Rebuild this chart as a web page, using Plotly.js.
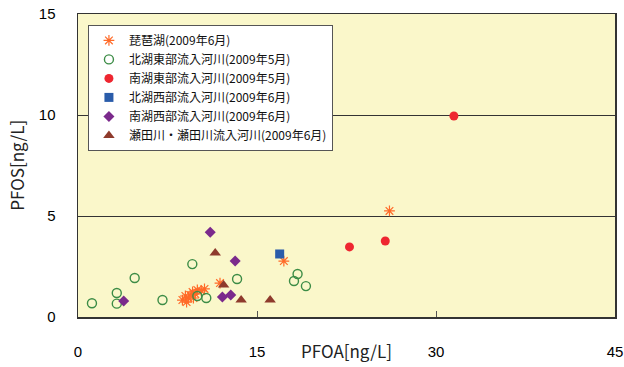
<!DOCTYPE html>
<html><head><meta charset="utf-8">
<script src="https://cdn.plot.ly/plotly-3.0.1.min.js"></script>
<style>html,body{margin:0;padding:0;background:#fff}#c{width:624px;height:367px}</style>
</head><body><div id="c"></div>
<script>
const seriesNames = ["琵琶湖(2009年6月)","北湖東部流入河川(2009年5月)","南湖東部流入河川(2009年5月)","北湖西部流入河川(2009年6月)","南湖西部流入河川(2009年6月)","瀬田川・瀬田川流入河川(2009年6月)"];
const biwaX = [26.1,17.25,11.9,8.75,9.0,9.25,9.4,9.6,9.83,10.0,10.33,10.6,9.1,9.67];
const biwaY = [5.25,2.77,1.68,0.84,1.04,0.94,1.09,1.24,1.14,1.34,1.29,1.39,0.74,0.94];
const hokuEastX = [1.17,3.25,3.25,4.75,7.08,9.58,10.0,10.75,13.33,18.1,18.4,19.1];
const hokuEastY = [0.68,1.19,0.66,1.93,0.84,2.62,1.04,0.94,1.88,1.78,2.13,1.53];
const nanEastX = [31.5,22.75,25.75];
const nanEastY = [9.95,3.47,3.76];
const hokuWestX = [16.9];
const hokuWestY = [3.12];
const nanWestX = [11.08,13.17,12.1,12.8,3.83];
const nanWestY = [4.2,2.77,0.99,1.09,0.79];
const setaX = [11.5,12.2,13.67,16.1];
const setaY = [3.17,1.58,0.84,0.84];
const xTicks = [0,15,30,45];
const yTicks = [0,5,10,15];

const traces = [
 {x:biwaX,y:biwaY,name:seriesNames[0],mode:'markers',type:'scatter',
  marker:{symbol:'asterisk-open',size:9,color:'#FF6A28',line:{color:'#FF6A28',width:1.2}}},
 {x:hokuEastX,y:hokuEastY,name:seriesNames[1],mode:'markers',type:'scatter',
  marker:{symbol:'circle-open',size:9,color:'#3C8C46',line:{color:'#3C8C46',width:1.4}}},
 {x:nanEastX,y:nanEastY,name:seriesNames[2],mode:'markers',type:'scatter',
  marker:{symbol:'circle',size:9,color:'#EE2630'}},
 {x:hokuWestX,y:hokuWestY,name:seriesNames[3],mode:'markers',type:'scatter',
  marker:{symbol:'square',size:9,color:'#2A5CAA'}},
 {x:nanWestX,y:nanWestY,name:seriesNames[4],mode:'markers',type:'scatter',
  marker:{symbol:'diamond',size:8.5,color:'#7B2A8C'}},
 {x:setaX,y:setaY,name:seriesNames[5],mode:'markers',type:'scatter',
  marker:{symbol:'triangle-up',size:10,color:'#8E3A2C'}}
];

const layout = {
 width:624,height:367,
 margin:{l:78,r:9,t:14,b:50},
 paper_bgcolor:'#ffffff',plot_bgcolor:'#FAF7CA',
 font:{family:'Liberation Sans, Arial, sans-serif',color:'#000'},
 showlegend:true,
 legend:{x:0.0185,y:0.964,xanchor:'left',yanchor:'top',bgcolor:'#ffffff',bordercolor:'#555',borderwidth:1,
   font:{family:'Noto Sans CJK JP, sans-serif',size:12,color:'#111'},tracegroupgap:0,itemwidth:30},
 xaxis:{range:[0,45],tickvals:xTicks,ticktext:xTicks.map(String),showgrid:false,zeroline:false,
   showline:true,linecolor:'#333',linewidth:1.5,mirror:true,ticks:'inside',ticklen:6,tickcolor:'#555',
   ticklabelstandoff:20,ticklabeloverflow:'allow',tickfont:{size:15,family:'Liberation Sans, Arial, sans-serif'}},
 yaxis:{range:[0,15],tickvals:yTicks,ticktext:yTicks.map(String),showgrid:true,gridcolor:'#333',gridwidth:1,
   zeroline:false,showline:true,linecolor:'#333',linewidth:1.5,mirror:true,ticks:'',
   ticklabelstandoff:18,ticklabeloverflow:'allow',tickfont:{size:15,family:'Liberation Sans, Arial, sans-serif'}},
 annotations:[
  {text:'PFOA[ng/L]',xref:'paper',yref:'paper',x:0.5,y:-0.158,xanchor:'center',yanchor:'bottom',showarrow:false,
   font:{size:17,family:'Noto Sans CJK JP, sans-serif',color:'#222'}},
  {text:'PFOS[ng/L]',xref:'paper',yref:'paper',x:-0.115,y:0.5,xanchor:'center',yanchor:'middle',textangle:-90,showarrow:false,
   font:{size:17,family:'Noto Sans CJK JP, sans-serif',color:'#222'}}
 ]
};
Plotly.newPlot('c',traces,layout,{displayModeBar:false,staticPlot:true});
</script></body></html>
